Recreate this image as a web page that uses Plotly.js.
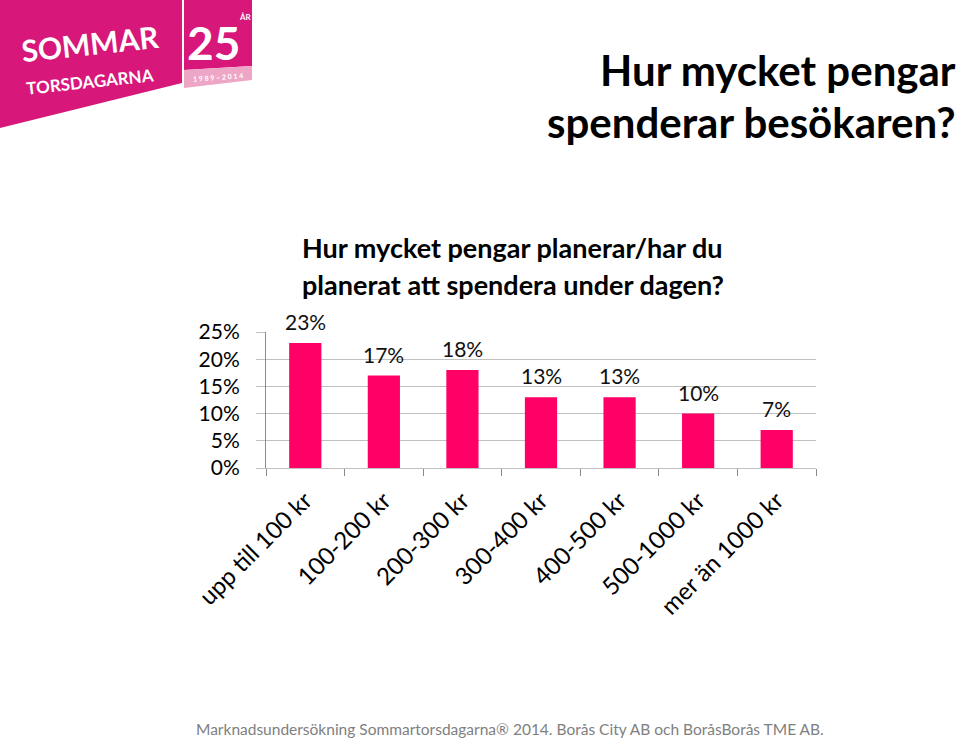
<!DOCTYPE html>
<html>
<head>
<meta charset="utf-8">
<script src="https://cdn.plot.ly/plotly-3.0.1.min.js"></script>
<style>html,body{margin:0;padding:0;background:#fff;}#chart{width:960px;height:740px;}</style>
</head>
<body>
<div id="chart"></div>
<script>
const categories = ['upp till 100 kr','100-200 kr','200-300 kr','300-400 kr','400-500 kr','500-1000 kr','mer än 1000 kr'];
const values = [23,17,18,13,13,10,7];
const yTickVals = [0,5,10,15,20,25];
const yTickText = ['0%','5%','10%','15%','20%','25%'];
const chartTitle = ['Hur mycket pengar planerar/har du','planerat att spendera under dagen?'];
const mainTitle = ['Hur mycket pengar','spenderar besökaren?'];
const footer = 'Marknadsundersökning Sommartorsdagarna® 2014. Borås City AB och BoråsBorås TME AB.';

const W=960,H=740,L=266,R=144,T=332,B=272;
const pw=W-L-R, ph=H-T-B;
const px = x => (x-L)/pw;
const py = y => ((H-B)-y)/ph;
const FONT = 'Lato, "Open Sans", sans-serif';

const annotations = [];
values.forEach((v,i)=>{
  annotations.push({x:categories[i], y:v, xref:'x', yref:'y', text:v+'%', showarrow:false,
    yanchor:'bottom', yshift:7, font:{family:FONT,size:21,color:'#111'}});
});
chartTitle.forEach((t,i)=>{
  annotations.push({x:px(300), y:py(247+37*i), xref:'paper', yref:'paper', xanchor:'left', yanchor:'middle',
    text:t, showarrow:false, font:{family:FONT,size:27,weight:'bold',color:'#000'}});
});
mainTitle.forEach((t,i)=>{
  annotations.push({x:px(958), y:py(70+52*i), xref:'paper', yref:'paper', xanchor:'right', yanchor:'middle',
    text:t, showarrow:false, font:{family:FONT,size:42,weight:'bold',color:'#000'}});
});
annotations.push({x:px(510), y:py(729), xref:'paper', yref:'paper', xanchor:'center', yanchor:'middle',
  text:footer, showarrow:false, font:{family:FONT,size:15.5,color:'#808080'}});

// logo
const path = pts => 'M' + pts.map(p=>px(p[0])+','+py(p[1])).join(' L') + ' Z';
const shapes = [
  {type:'path', xref:'paper', yref:'paper', path:path([[0,0],[182,0],[182,83],[0,128]]), fillcolor:'#d8177b', line:{width:0}},
  {type:'path', xref:'paper', yref:'paper', path:path([[184,0],[252,0],[252,66],[184,70]]), fillcolor:'#d8177b', line:{width:0}},
  {type:'path', xref:'paper', yref:'paper', path:path([[184,70],[252,66],[252,80],[184,88]]), fillcolor:'#eea6c6', line:{width:0}}
];
const logoText = [
  {t:'SOMMAR', x:90, y:43, s:30, a:-6},
  {t:'TORSDAGARNA', x:90, y:82, s:17, a:-6},
  {t:'25', x:213, y:42, s:46, a:0},
  {t:'ÅR', x:245, y:17, s:8, a:0},
  {t:'1 9 8 9 – 2 0 1 4', x:218, y:77, s:7, a:-4}
];
logoText.forEach(o=>{
  annotations.push({x:px(o.x), y:py(o.y), xref:'paper', yref:'paper', xanchor:'center', yanchor:'middle',
    text:o.t, textangle:o.a, showarrow:false,
    font:{family:FONT, size:o.s, weight:'bold', color:'#fff'}});
});

const trace = {type:'bar', x:categories, y:values, marker:{color:'#ff0066'}, hoverinfo:'skip', cliponaxis:false};

const layout = {
  width:W, height:H, margin:{l:L,r:R,t:T,b:B,pad:0},
  paper_bgcolor:'#fff', plot_bgcolor:'#fff', showlegend:false, bargap:0.59,
  font:{family:FONT, color:'#000'},
  xaxis:{type:'category', tickangle:-45, tickson:'boundaries', ticks:'outside', ticklen:7, tickcolor:'#8a8a8a',
    showline:true, linecolor:'#c0c0c0', linewidth:1, showgrid:false, zeroline:false,
    tickfont:{family:FONT,size:24,color:'#000'}, ticklabelstandoff:8, automargin:false},
  yaxis:{range:[0,25], tickvals:yTickVals, ticktext:yTickText, ticks:'outside', ticklen:9, tickcolor:'#c0c0c0',
    showline:true, linecolor:'#8a8a8a', linewidth:1, showgrid:true, gridcolor:'#c0c0c0', zeroline:false,
    tickfont:{family:FONT,size:21,color:'#000'}, ticklabelstandoff:12, automargin:false, fixedrange:true},
  annotations:annotations, shapes:shapes
};
Plotly.newPlot('chart',[trace],layout,{displayModeBar:false,staticPlot:true});
</script>
</body>
</html>
